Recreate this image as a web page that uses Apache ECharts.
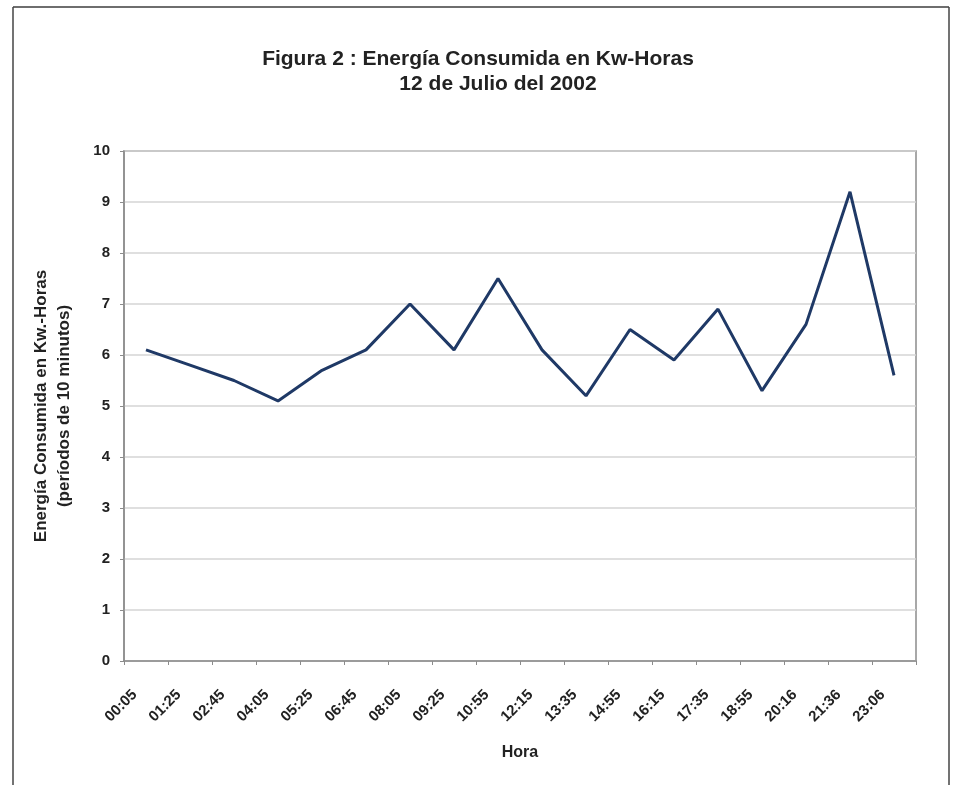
<!DOCTYPE html>
<html>
<head>
<meta charset="utf-8">
<script src="https://cdn.jsdelivr.net/npm/echarts@6/dist/echarts.min.js"></script>
<style>
  html, body { margin: 0; padding: 0; background: #fff; }
  #chart { width: 957px; height: 785px; }
</style>
</head>
<body>
<div id="chart"></div>
<script>
// datos
const horas = ['00:05', '01:25', '02:45', '04:05', '05:25', '06:45', '08:05', '09:25', '10:55',
  '12:15', '13:35', '14:55', '16:15', '17:35', '18:55', '20:16', '21:36', '23:06']
const energia = [6.1, 5.8, 5.5, 5.1, 5.7, 6.1, 7.0, 6.1, 7.5,
  6.1, 5.2, 6.5, 5.9, 6.9, 5.3, 6.6, 9.2, 5.6]

const font = 'Liberation Sans, Arial, sans-serif'
const chart = echarts.init(document.getElementById('chart'))

chart.setOption({
  animation: false,
  backgroundColor: '#fff',
  title: [{
    text: 'Figura 2 : Energía Consumida en Kw-Horas',
    left: 473,
    top: 44,
    textAlign: 'center',
    textStyle: { fontFamily: font, fontSize: 21, fontWeight: 'bold', color: '#222' }
  }, {
    text: '12 de Julio del 2002',
    left: 493,
    top: 69,
    textAlign: 'center',
    textStyle: { fontFamily: font, fontSize: 21, fontWeight: 'bold', color: '#222' }
  }],
  grid: { left: 124, top: 151, width: 792, height: 510, show: true, borderColor: '#8c8c8c', borderWidth: 1.5 },
  xAxis: {
    type: 'category',
    data: horas,
    boundaryGap: true,
    name: 'Hora',
    nameLocation: 'middle',
    nameGap: 84,
    nameTextStyle: { fontFamily: font, fontSize: 16, fontWeight: 'bold', color: '#222' },
    axisLine: { lineStyle: { color: '#8c8c8c', width: 1.5 } },
    axisTick: { show: true, alignWithLabel: false, length: 4, lineStyle: { color: '#8c8c8c' } },
    axisLabel: {
      rotate: 45, interval: 0, fontFamily: font, fontSize: 15, fontWeight: 'bold', color: '#222',
      margin: 20, padding: [0, 16, 0, 0]
    }
  },
  yAxis: {
    type: 'value',
    min: 0,
    max: 10,
    interval: 1,
    name: 'Energía Consumida en Kw.-Horas\n(períodos de 10 minutos)',
    nameLocation: 'middle',
    nameGap: 48,
    nameTextStyle: { fontFamily: font, fontSize: 17, fontWeight: 'bold', color: '#222', lineHeight: 23 },
    axisLine: { show: true, lineStyle: { color: '#8c8c8c', width: 1.5 } },
    axisTick: { show: true, length: 4, lineStyle: { color: '#8c8c8c' } },
    axisLabel: { fontFamily: font, fontSize: 15, fontWeight: 'bold', color: '#222', margin: 14 },
    splitLine: { lineStyle: { color: '#d4d4d4', width: 1.5 } }
  },
  series: [{
    type: 'line',
    data: energia,
    symbol: 'none',
    lineStyle: { color: '#1f3966', width: 3 }
  }],
  graphic: [
    { type: 'line', shape: { x1: 13, y1: 7, x2: 949, y2: 7 }, style: { stroke: '#6e6e6e', lineWidth: 2 } },
    { type: 'line', shape: { x1: 13, y1: 7, x2: 13, y2: 785 }, style: { stroke: '#444', lineWidth: 1.5 } },
    { type: 'line', shape: { x1: 949, y1: 7, x2: 949, y2: 785 }, style: { stroke: '#444', lineWidth: 1.5 } }
  ]
})
</script>
</body>
</html>
